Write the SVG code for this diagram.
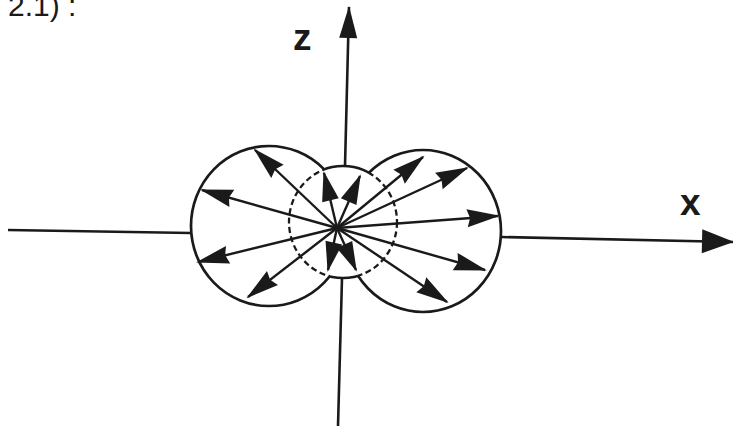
<svg xmlns="http://www.w3.org/2000/svg" width="733" height="426" viewBox="0 0 733 426">
<style>
.ax{stroke:#1a1a1a;stroke-width:2.6;fill:none}
.ar{stroke:#1a1a1a;stroke-width:2.4;fill:none}
.cir{stroke:#1a1a1a;stroke-width:2.7;fill:none}
.dash{stroke:#1a1a1a;stroke-width:2.3;fill:none;stroke-dasharray:6 3.5}
.lbl{font-family:"Liberation Sans",Arial,sans-serif;fill:#1a1a1a}
</style>
<defs>
<marker id="ah" markerUnits="userSpaceOnUse" markerWidth="34" markerHeight="20" refX="31" refY="9" orient="auto" overflow="visible">
<path d="M0,0 L33,9 L0,18 L3,9 Z" fill="#1a1a1a"/>
</marker>
<marker id="ahs" markerUnits="userSpaceOnUse" markerWidth="30" markerHeight="20" refX="28" refY="8.5" orient="auto" overflow="visible">
<path d="M0,0 L30,8.5 L0,17 Z" fill="#1a1a1a"/>
</marker>
<marker id="az" markerUnits="userSpaceOnUse" markerWidth="32" markerHeight="20" refX="31" refY="9" orient="auto" overflow="visible">
<path d="M0,0 L32,9 L0,18 Z" fill="#1a1a1a"/>
</marker>
<marker id="axh" markerUnits="userSpaceOnUse" markerWidth="32" markerHeight="26" refX="31" refY="12" orient="auto" overflow="visible">
<path d="M0,0 L32,12 L0,24 Z" fill="#1a1a1a"/>
</marker>
<mask id="outSmall" maskUnits="userSpaceOnUse" x="0" y="0" width="733" height="426">
<rect x="0" y="0" width="733" height="426" fill="#fff"/>
<ellipse cx="343" cy="222" rx="54" ry="56" fill="#000"/>
</mask>
<mask id="outBig" maskUnits="userSpaceOnUse" x="0" y="0" width="733" height="426">
<rect x="0" y="0" width="733" height="426" fill="#fff"/>
<ellipse cx="269" cy="226" rx="78" ry="80" fill="#000"/>
<ellipse cx="423" cy="231" rx="78" ry="81" fill="#000"/>
</mask>
<clipPath id="inBig">
<ellipse cx="269" cy="226" rx="78" ry="80"/>
<ellipse cx="423" cy="231" rx="78" ry="81"/>
</clipPath>
</defs>
<rect x="0" y="0" width="733" height="426" fill="#fff"/>

<text class="lbl" x="8" y="16" font-size="30">2.1) :</text>

<g id="axes">
<line class="ax" x1="345" y1="166" x2="349" y2="7" marker-end="url(#az)"/>
<line class="ax" x1="342" y1="278" x2="338" y2="426"/>
<line class="ax" x1="8" y1="230" x2="191" y2="233"/>
<line class="ax" x1="501" y1="237" x2="733" y2="242" marker-end="url(#axh)"/>
<text class="lbl" x="293" y="50" font-size="37" font-weight="bold">z</text>
<text class="lbl" x="680" y="215" font-size="37" font-weight="bold">x</text>
</g>

<g id="lobes">
<ellipse class="cir" cx="269" cy="226" rx="78" ry="80" mask="url(#outSmall)"/>
<ellipse class="cir" cx="423" cy="231" rx="78" ry="81" mask="url(#outSmall)"/>
<ellipse class="cir" cx="343" cy="222" rx="54" ry="56" mask="url(#outBig)"/>
<ellipse class="dash" cx="343" cy="222" rx="54" ry="56" clip-path="url(#inBig)"/>
</g>

<g id="connectors">
<line class="ar" x1="337" y1="228" x2="255" y2="150" marker-end="url(#ah)"/>
<line class="ar" x1="337" y1="228" x2="202" y2="190" marker-end="url(#ah)"/>
<line class="ar" x1="337" y1="228" x2="198" y2="262" marker-end="url(#ah)"/>
<line class="ar" x1="337" y1="228" x2="248" y2="297" marker-end="url(#ah)"/>
<line class="ar" x1="337" y1="228" x2="423" y2="157" marker-end="url(#ah)"/>
<line class="ar" x1="337" y1="228" x2="467" y2="168" marker-end="url(#ah)"/>
<line class="ar" x1="337" y1="228" x2="498" y2="216" marker-end="url(#ah)"/>
<line class="ar" x1="337" y1="228" x2="485" y2="270" marker-end="url(#ah)"/>
<line class="ar" x1="337" y1="228" x2="447" y2="302" marker-end="url(#ah)"/>
<line class="ar" x1="337" y1="228" x2="324" y2="173" marker-end="url(#ahs)"/>
<line class="ar" x1="337" y1="228" x2="360" y2="176" marker-end="url(#ahs)"/>
<line class="ar" x1="337" y1="228" x2="328" y2="270" marker-end="url(#ahs)"/>
<line class="ar" x1="337" y1="228" x2="356" y2="270" marker-end="url(#ahs)"/>
</g>
</svg>
